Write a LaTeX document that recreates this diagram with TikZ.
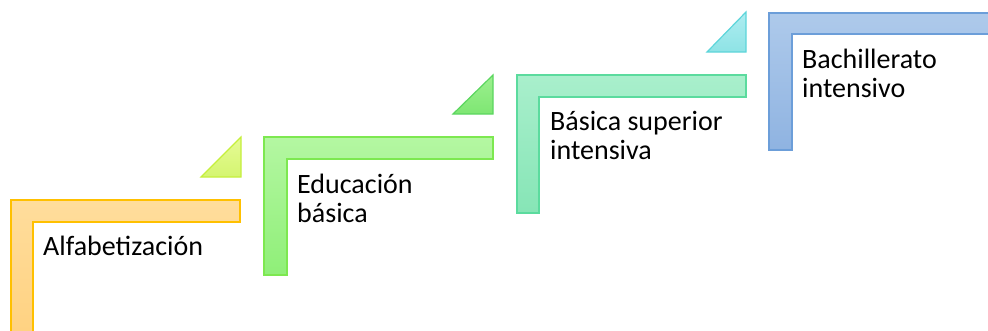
\documentclass[tikz,border=0pt]{standalone}
\usepackage{fontspec}
\setmainfont{Carlito}
\usetikzlibrary{positioning}

\definecolor{orgline}{HTML}{FFC000}
\definecolor{orgtop}{HTML}{FFDD9C}
\definecolor{orgbot}{HTML}{FFD17F}
\definecolor{grnline}{HTML}{7DE850}
\definecolor{grntop}{HTML}{B4F7A2}
\definecolor{grnbot}{HTML}{8FEF78}
\definecolor{tealline}{HTML}{5BDB9E}
\definecolor{tealtop}{HTML}{A9EFCC}
\definecolor{tealbot}{HTML}{86E5B6}
\definecolor{bluline}{HTML}{6C9ED9}
\definecolor{blutop}{HTML}{AECAEB}
\definecolor{blubot}{HTML}{8FB3E1}
\definecolor{limeline}{HTML}{C5EF3C}
\definecolor{limetop}{HTML}{E6FB96}
\definecolor{limebot}{HTML}{D4F570}
\definecolor{mintline}{HTML}{5BD65F}
\definecolor{minttop}{HTML}{9DF08F}
\definecolor{mintbot}{HTML}{7EE673}
\definecolor{aqualine}{HTML}{5DD5DA}
\definecolor{aquatop}{HTML}{AEEDF1}
\definecolor{aquabot}{HTML}{8EE3E5}

\begin{document}
\begin{tikzpicture}[x=1pt, y=-1pt,
  stepfill/.style n args={3}{draw=#1, top color=#2, bottom color=#3,
                             line width=1.2pt, line join=miter},
  steptext/.style={inner sep=0pt, align=left,
                   font=\fontsize{28}{29.5}\selectfont}
]
\clip (0,0) rectangle (988,330);
% corner bars
\draw[stepfill={orgline}{orgtop}{orgbot}] (11,345) |- (240,200) -- (240,222) -| (33,345) -- cycle;
\draw[stepfill={grnline}{grntop}{grnbot}] (264,275) |- (493,137) -- (493,159) -| (287,275) -- cycle;
\draw[stepfill={tealline}{tealtop}{tealbot}] (517,213) |- (746,75) -- (746,97) -| (539,213) -- cycle;
\draw[stepfill={bluline}{blutop}{blubot}] (769,150) |- (1000,13) -- (1000,34) -| (792,150) -- cycle;
% small triangles
\draw[stepfill={limeline}{limetop}{limebot}] (201,177) -- (241,137) -- (241,177) -- cycle;
\draw[stepfill={mintline}{minttop}{mintbot}] (453,114) -- (493,75) -- (493,114) -- cycle;
\draw[stepfill={aqualine}{aquatop}{aquabot}] (707,52) -- (746,12) -- (746,52) -- cycle;
% labels
\coordinate (in1) at (33,222);
\coordinate (in2) at (287,159);
\coordinate (in3) at (539,97);
\coordinate (in4) at (792,34);
\node[steptext, below right=10pt and 10pt of in1] (alfa) {\rule{0pt}{23pt}Alfabetización};
\node[steptext, below right=11pt and 10pt of in2] (basica) {\rule{0pt}{23pt}Educación\\básica};
\node[steptext, below right=10pt and 11pt of in3] (superior) {\rule{0pt}{23pt}Básica superior\\intensiva};
\node[steptext, below right=11pt and 10pt of in4] (bachi) {\rule{0pt}{23pt}Bachillerato\\intensivo};
\end{tikzpicture}
\end{document}
